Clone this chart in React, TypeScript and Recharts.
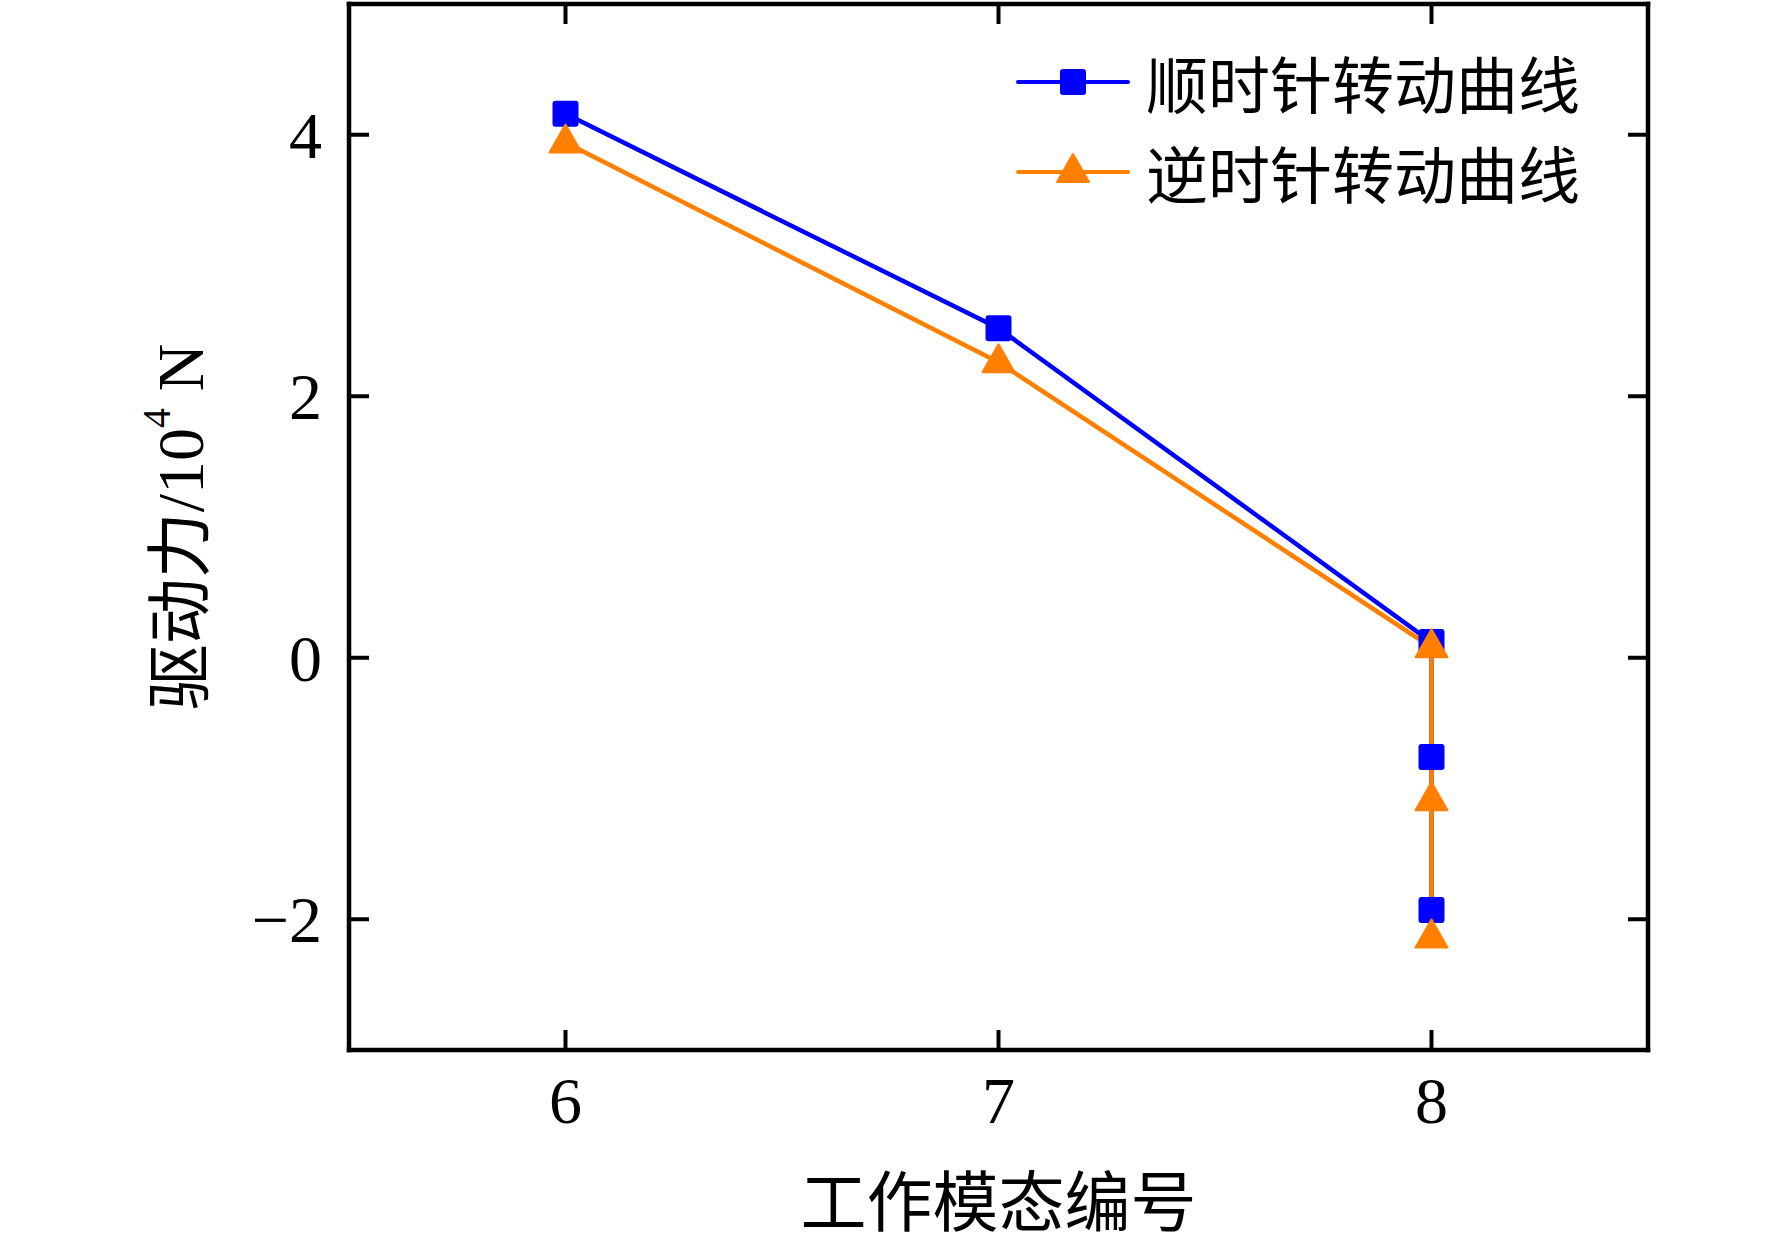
import React from "react";
import { ComposedChart, Line, XAxis, YAxis, Legend } from "recharts";

// 工作模态编号 (x) and 驱动力 in 10^4 N (y) for both rotation directions
const modes = [6, 7, 8, 8, 8];
const clockwise = [4.16, 2.52, 0.12, -0.76, -1.93];
const counterClockwise = [3.94, 2.26, 0.08, -1.09, -2.14];
const xTicks = [6, 7, 8];
const yTicks = [-2, 0, 2, 4];
const seriesNames = ["顺时针转动曲线", "逆时针转动曲线"];

const cwData = modes.map((x, i) => ({ x, y: clockwise[i] }));
const ccwData = modes.map((x, i) => ({ x, y: counterClockwise[i] }));

const BLUE = "#0000ff";
const ORANGE = "#ff8000";
const SERIF = "'Liberation Serif', 'Noto Sans CJK SC', serif";
const TICK_LEN = 20;
const FRAME = { stroke: "#000", strokeWidth: 4.5, strokeLinecap: "square" as const };

const fmt = (v: number) => (v < 0 ? "\u2212" + Math.abs(v) : String(v));

const SquareDot = (props: any) => {
  const { cx, cy, key } = props;
  if (cx == null || cy == null) return null;
  return <rect key={key} x={cx - 13} y={cy - 13} width={26} height={26} rx={3} fill={BLUE} />;
};

const TriangleDot = (props: any) => {
  const { cx, cy, key } = props;
  if (cx == null || cy == null) return null;
  return (
    <polygon
      key={key}
      points={`${cx},${cy - 18} ${cx - 16},${cy + 10} ${cx + 16},${cy + 10}`}
      fill={ORANGE}
      stroke={ORANGE}
      strokeWidth={2}
      strokeLinejoin="round"
    />
  );
};

const LeftTick = ({ x, y, payload }: any) => (
  <g>
    <line x1={x} x2={x + TICK_LEN} y1={y} y2={y} stroke="#000" strokeWidth={4} />
    <text x={x - 27} y={y + 23} textAnchor="end" fontFamily={SERIF} fontSize={66} fill="#000">
      {fmt(payload.value)}
    </text>
  </g>
);

const RightTick = ({ x, y }: any) => (
  <line x1={x} x2={x - TICK_LEN} y1={y} y2={y} stroke="#000" strokeWidth={4} />
);

const BottomTick = ({ x, y, payload }: any) => (
  <g>
    <line x1={x} x2={x} y1={y} y2={y - TICK_LEN} stroke="#000" strokeWidth={4} />
    <text x={x} y={y + 73} textAnchor="middle" fontFamily={SERIF} fontSize={66} fill="#000">
      {fmt(payload.value)}
    </text>
  </g>
);

const TopTick = ({ x, y }: any) => (
  <line x1={x} x2={x} y1={y} y2={y + TICK_LEN} stroke="#000" strokeWidth={4} />
);

const YTitle = ({ viewBox }: any) => {
  const cx = viewBox.x + viewBox.width - 169;
  const cy = viewBox.y + viewBox.height / 2;
  return (
    <text
      x={cx}
      y={cy}
      transform={`rotate(-90, ${cx}, ${cy})`}
      textAnchor="middle"
      dominantBaseline="central"
      fontFamily={SERIF}
      fontSize={66}
      fill="#000"
    >
      驱动力/10
      <tspan fontSize={40} dy={-24}>4</tspan>
      <tspan dy={24}> N</tspan>
    </text>
  );
};

const XTitle = ({ viewBox }: any) => (
  <text
    x={viewBox.x + viewBox.width / 2}
    y={viewBox.y + 153}
    textAnchor="middle"
    dominantBaseline="central"
    fontFamily={SERIF}
    fontSize={66}
    fill="#000"
  >
    工作模态编号
  </text>
);

const LegendBox = () => {
  const rows = [
    { name: seriesNames[0], color: BLUE, marker: "square" },
    { name: seriesNames[1], color: ORANGE, marker: "triangle" },
  ];
  return (
    <div>
      {rows.map((r) => (
        <div key={r.name} style={{ display: "flex", alignItems: "center", height: 90 }}>
          <svg width={114} height={90}>
            <line x1={2} x2={112} y1={45} y2={45} stroke={r.color} strokeWidth={4} strokeLinecap="round" />
            {r.marker === "square" ? (
              <rect x={44} y={32} width={26} height={26} rx={3} fill={r.color} />
            ) : (
              <polygon
                points="57,27 41,55 73,55"
                fill={r.color}
                stroke={r.color}
                strokeWidth={2}
                strokeLinejoin="round"
              />
            )}
          </svg>
          <span
            style={{
              marginLeft: 16,
              fontFamily: "'Noto Sans CJK SC', sans-serif",
              fontSize: 62,
              lineHeight: "90px",
              color: "#000",
              whiteSpace: "nowrap",
            }}
          >
            {r.name}
          </span>
        </div>
      ))}
    </div>
  );
};

export default function App() {
  return (
    <div style={{ position: "absolute", left: 0, top: 0, background: "#fff" }}>
      <ComposedChart
        width={1772}
        height={1244}
        margin={{ top: 3, right: 44, bottom: 134, left: 269 }}
      >
        <XAxis
          type="number"
          dataKey="x"
          domain={[5.5, 8.5]}
          ticks={xTicks}
          height={60}
          tickSize={0}
          tickMargin={0}
          tickLine={false}
          axisLine={FRAME}
          tick={<BottomTick />}
          label={{ content: (p: any) => <XTitle {...p} /> }}
        />
        <XAxis
          xAxisId="top"
          orientation="top"
          type="number"
          dataKey="x"
          domain={[5.5, 8.5]}
          ticks={xTicks}
          height={1}
          tickSize={0}
          tickMargin={0}
          tickLine={false}
          axisLine={FRAME}
          tick={<TopTick />}
        />
        <YAxis
          type="number"
          domain={[-3, 5]}
          ticks={yTicks}
          width={80}
          tickSize={0}
          tickMargin={0}
          tickLine={false}
          axisLine={FRAME}
          tick={<LeftTick />}
          label={{ content: (p: any) => <YTitle {...p} /> }}
        />
        <YAxis
          yAxisId="right"
          orientation="right"
          type="number"
          domain={[-3, 5]}
          ticks={yTicks}
          width={80}
          tickSize={0}
          tickMargin={0}
          tickLine={false}
          axisLine={FRAME}
          tick={<RightTick />}
        />
        <Legend
          layout="horizontal"
          verticalAlign="middle"
          align="center"
          content={() => <LegendBox />}
          wrapperStyle={{ top: 37, left: 1016, width: "auto", height: "auto" }}
        />
        <Line
          data={cwData}
          dataKey="y"
          name={seriesNames[0]}
          stroke={BLUE}
          strokeWidth={4.5}
          type="linear"
          dot={<SquareDot />}
          activeDot={false}
          isAnimationActive={false}
        />
        {/* same domains as the bottom/left axes, so positions are identical */}
        <Line
          data={ccwData}
          xAxisId="top"
          yAxisId="right"
          dataKey="y"
          name={seriesNames[1]}
          stroke={ORANGE}
          strokeWidth={4.5}
          type="linear"
          dot={<TriangleDot />}
          activeDot={false}
          isAnimationActive={false}
        />
      </ComposedChart>
    </div>
  );
}
